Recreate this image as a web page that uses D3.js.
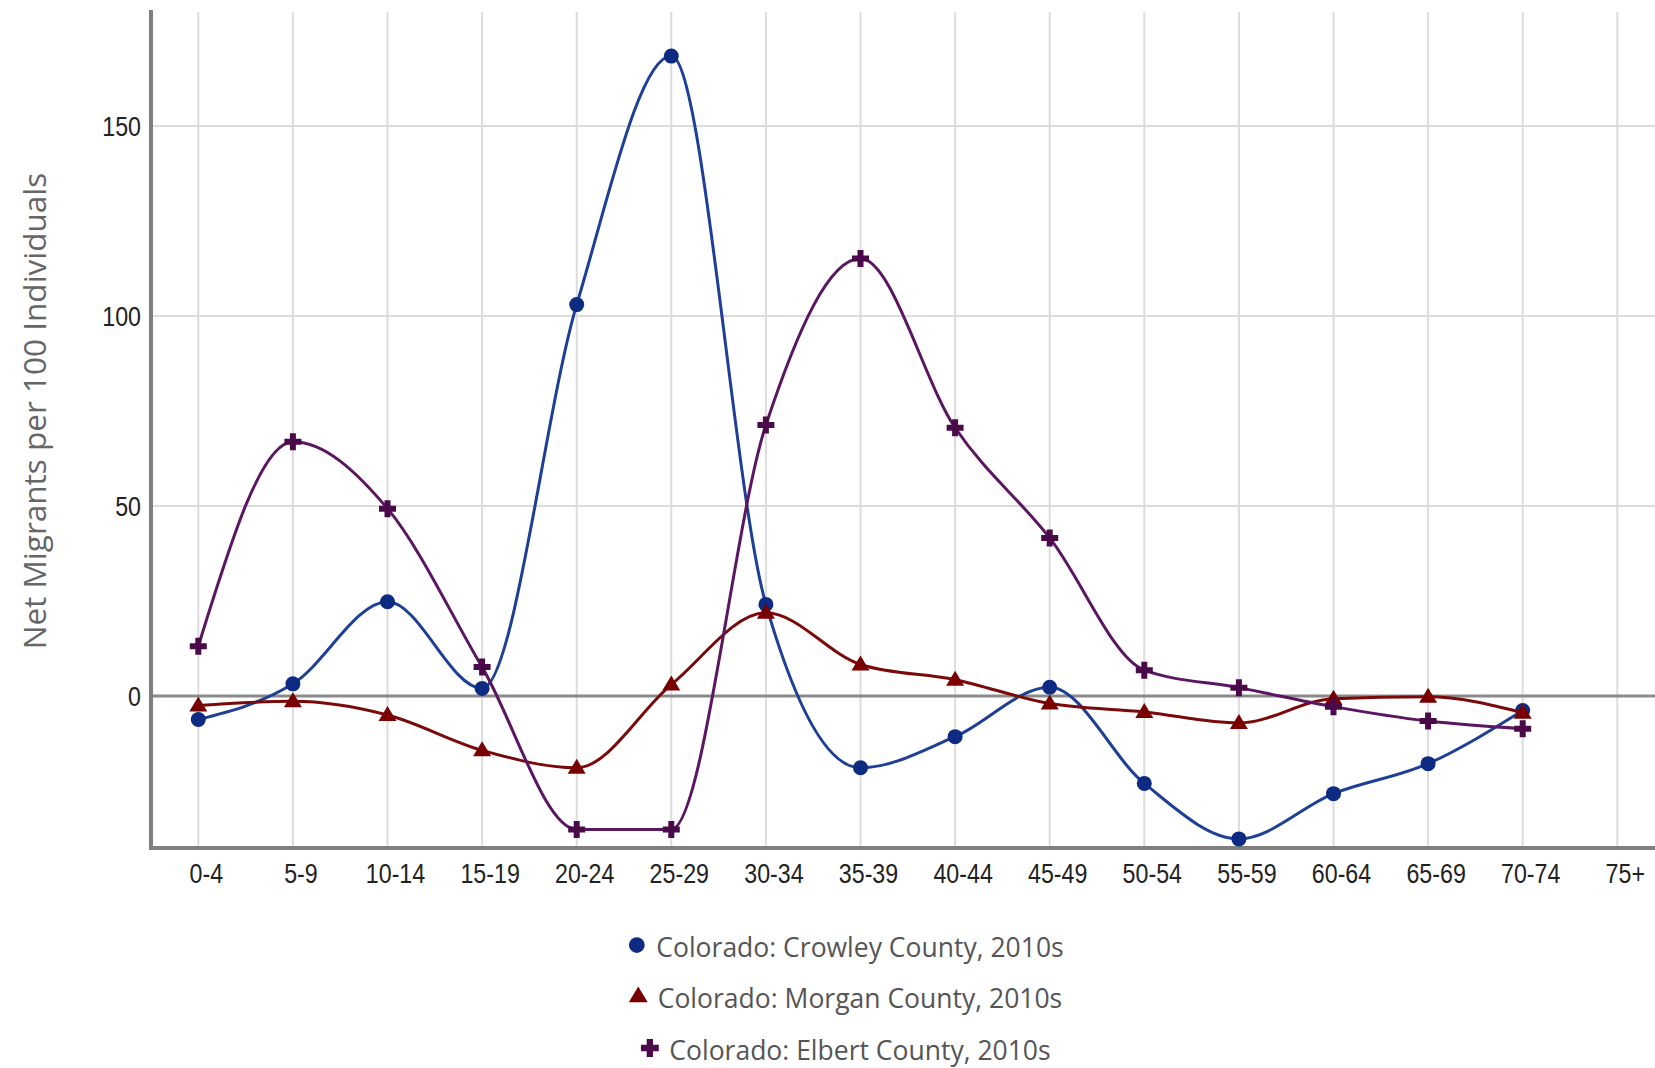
<!DOCTYPE html>
<html>
<head>
<meta charset="utf-8">
<script src="https://cdn.jsdelivr.net/npm/d3@7"></script>
<style>
  html, body { margin: 0; padding: 0; background: #fff; }
  svg { display: block; }
</style>
</head>
<body>
<svg id="chart" width="1655" height="1068"></svg>
<script>
// ---- data ----
const categories = ["0-4","5-9","10-14","15-19","20-24","25-29","30-34","35-39","40-44","45-49","50-54","55-59","60-64","65-69","70-74","75+"];
const crowley = [-6.2, 3.2, 24.8, 2.0, 103.0, 168.4, 24.1, -18.9, -10.7, 2.3, -23.0, -37.6, -25.7, -17.8, -3.8];
const morgan  = [-2.5, -1.4, -5.0, -14.3, -18.9, 3.0, 21.9, 8.3, 4.3, -2.0, -4.2, -7.1, -0.7, -0.2, -4.4];
const elbert  = [13.1, 66.9, 49.3, 7.6, -35.1, -35.1, 71.3, 115.1, 70.6, 41.6, 6.8, 2.2, -2.8, -6.6, -8.6];
const seriesNames = ["Colorado: Crowley County, 2010s", "Colorado: Morgan County, 2010s", "Colorado: Elbert County, 2010s"];
const yTicks = [0, 50, 100, 150];
const yTitle = "Net Migrants per 100 Individuals";

(function () {
// ---- styles ----
const series = [
  {name: seriesNames[0], values: crowley, line: "#1d3f95", mark: "#0d2b82", shape: "circle"},
  {name: seriesNames[1], values: morgan,  line: "#7a0a0a", mark: "#7a0000", shape: "triangle"},
  {name: seriesNames[2], values: elbert,  line: "#5a1660", mark: "#4a0a4a", shape: "plus"}
];

const svg = d3.select("#chart");
const plotLeft = 151, plotTop = 12, plotBottom = 848;
const x = d3.scaleBand().domain(categories).range([plotLeft, plotLeft + 16 * 94.6]);
const cx = c => x(c) + x.bandwidth() / 2;
const y = d3.scaleLinear().domain([-40, 180]).range([plotBottom, plotTop]);

// gridlines
const grid = svg.append("g");
grid.selectAll("line.v").data(categories).enter().append("line")
  .attr("x1", d => cx(d)).attr("x2", d => cx(d))
  .attr("y1", plotTop).attr("y2", plotBottom)
  .attr("stroke", "#dcdcdc").attr("stroke-width", 2);
grid.selectAll("line.h").data(yTicks.filter(t => t !== 0)).enter().append("line")
  .attr("x1", plotLeft).attr("x2", 1655)
  .attr("y1", d => y(d)).attr("y2", d => y(d))
  .attr("stroke", "#dcdcdc").attr("stroke-width", 2);

// baseline at zero
svg.append("line").attr("x1", plotLeft).attr("x2", 1655)
  .attr("y1", y(0)).attr("y2", y(0))
  .attr("stroke", "#8a8a8a").attr("stroke-width", 3);

// axes lines
svg.append("line").attr("x1", plotLeft).attr("x2", plotLeft)
  .attr("y1", plotTop - 2).attr("y2", plotBottom + 2)
  .attr("stroke", "#7f7f7f").attr("stroke-width", 4);
svg.append("line").attr("x1", plotLeft - 2).attr("x2", 1655)
  .attr("y1", plotBottom).attr("y2", plotBottom)
  .attr("stroke", "#7f7f7f").attr("stroke-width", 4);

// y tick labels
const tickFont = "'Liberation Sans', Arial, sans-serif";
svg.append("g").selectAll("text").data(yTicks).enter().append("text")
  .attr("transform", d => `translate(141,${y(d)}) scale(0.86,1)`)
  .attr("dy", "0.36em")
  .attr("text-anchor", "end")
  .attr("font-family", tickFont).attr("font-size", 27)
  .attr("fill", "#222")
  .text(d => d);

// x tick labels
svg.append("g").selectAll("text").data(categories).enter().append("text")
  .attr("transform", d => `translate(${cx(d) + 8},883) scale(0.86,1)`)
  .attr("text-anchor", "middle")
  .attr("font-family", tickFont).attr("font-size", 27)
  .attr("fill", "#222")
  .text(d => d);

// y title
svg.append("text")
  .attr("transform", "translate(46,411) rotate(-90)")
  .attr("text-anchor", "middle")
  .attr("font-family", "'Open Sans', 'Noto Sans', sans-serif")
  .attr("font-size", 31.5)
  .attr("fill", "#666")
  .text(yTitle);

// markers
function markerPath(shape, s) {
  if (shape === "triangle") {
    const w = 9 * s, h = 15 * s;
    return `M0,${-h*0.6}L${w},${h*0.4}L${-w},${h*0.4}Z`;
  }
  if (shape === "plus") {
    const a = 8.5 * s, t = 3 * s;
    return `M${-t},${-a}H${t}V${-t}H${a}V${t}H${t}V${a}H${-t}V${t}H${-a}V${-t}H${-t}Z`;
  }
  const r = 7.5 * s;
  return `M${r},0A${r},${r} 0 1,1 ${-r},0A${r},${r} 0 1,1 ${r},0Z`;
}

const line = d3.line()
  .x(d => cx(d.c))
  .y(d => y(d.v))
  .curve(d3.curveMonotoneX);

series.forEach(s => {
  const pts = s.values.map((v, i) => ({c: categories[i], v}));
  const g = svg.append("g");
  g.append("path").datum(pts)
    .attr("d", line)
    .attr("fill", "none")
    .attr("stroke", s.line)
    .attr("stroke-width", 3);
  g.selectAll("path.m").data(pts).enter().append("path")
    .attr("class", "m")
    .attr("transform", d => `translate(${cx(d.c)},${y(d.v)})`)
    .attr("d", markerPath(s.shape, 1))
    .attr("fill", s.mark);
});

// legend
const legendCenter = 846;
const legendBaselines = [957, 1008, 1060];
series.forEach((s, i) => {
  const g = svg.append("g");
  const t = g.append("text")
    .attr("y", legendBaselines[i])
    .attr("font-family", "'Open Sans', 'Noto Sans', sans-serif")
    .attr("font-size", 26.5)
    .attr("fill", "#555")
    .text(s.name);
  const w = t.node().getComputedTextLength();
  const markerW = 28;
  const startX = legendCenter - (w + markerW) / 2;
  t.attr("x", startX + markerW);
  g.append("path")
    .attr("transform", `translate(${startX + 8.5},${legendBaselines[i] - 12})`)
    .attr("d", markerPath(s.shape, 1.05))
    .attr("fill", s.mark);
});
})();
</script>
</body>
</html>
